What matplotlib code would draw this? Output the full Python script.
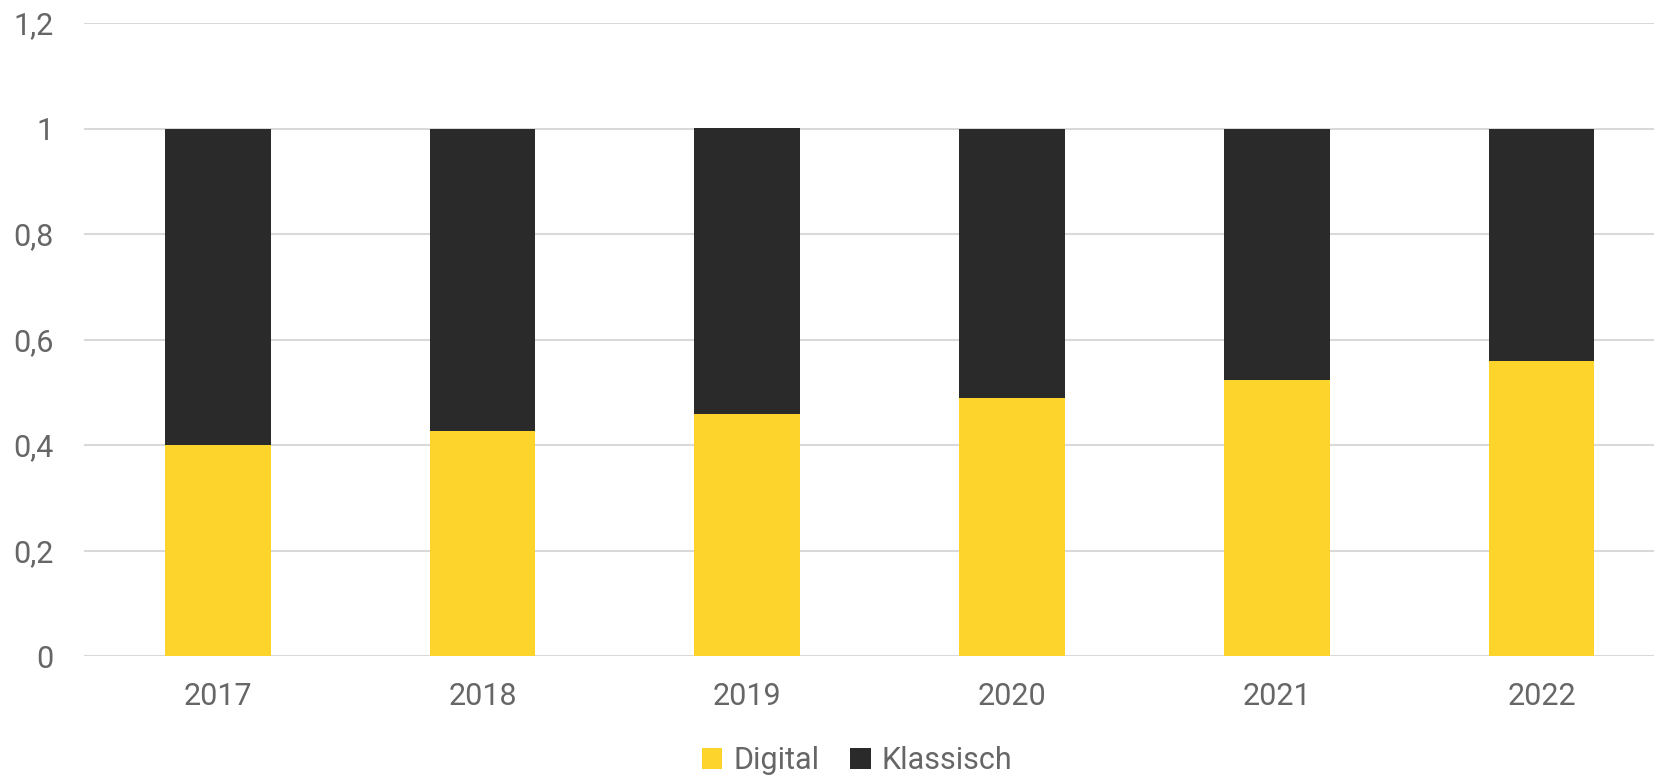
import matplotlib
matplotlib.use("Agg")
import matplotlib.pyplot as plt
from matplotlib.ticker import FuncFormatter

plt.rcParams['font.family'] = ['Roboto', 'DejaVu Sans']

years = ["2017", "2018", "2019", "2020", "2021", "2022"]
digital = [0.40, 0.427, 0.458, 0.49, 0.523, 0.56]
klassisch = [1 - d for d in digital]

yellow = "#FDD42B"
dark = "#2A2A2A"
text_col = "#666666"
grid_col = "#D9D9D9"

fig = plt.figure(figsize=(16.54, 7.77), dpi=100)
ax = fig.add_axes([84 / 1654, 121 / 777, 1 - 84 / 1654, 633 / 777])

x = range(len(years))
ax.bar(x, digital, width=0.4, color=yellow, label="Digital", zorder=3)
ax.bar(x, klassisch, width=0.4, bottom=digital, color=dark, label="Klassisch", zorder=3)

ax.set_ylim(0, 1.2)
ax.set_xlim(-0.505, 5.425)
ax.set_yticks([0, 0.2, 0.4, 0.6, 0.8, 1.0, 1.2])
ax.yaxis.set_major_formatter(FuncFormatter(lambda v, p: f"{v:g}".replace(".", ",")))
ax.set_xticks(list(x))
ax.set_xticklabels(years)

ax.grid(axis="y", color=grid_col, linewidth=1.5, zorder=0)
for s in ax.spines.values():
    s.set_visible(False)
ax.tick_params(axis="both", length=0, labelsize=22, colors=text_col)
ax.tick_params(axis="y", pad=22)
ax.tick_params(axis="x", pad=19)

fig.legend(loc="center", bbox_to_anchor=(0.518, 0.021), ncol=2, frameon=False,
           fontsize=22, handlelength=0.68, handleheight=0.68, handletextpad=0.35,
           columnspacing=1.0, labelcolor=text_col)

fig.savefig("out.png", dpi=100)
